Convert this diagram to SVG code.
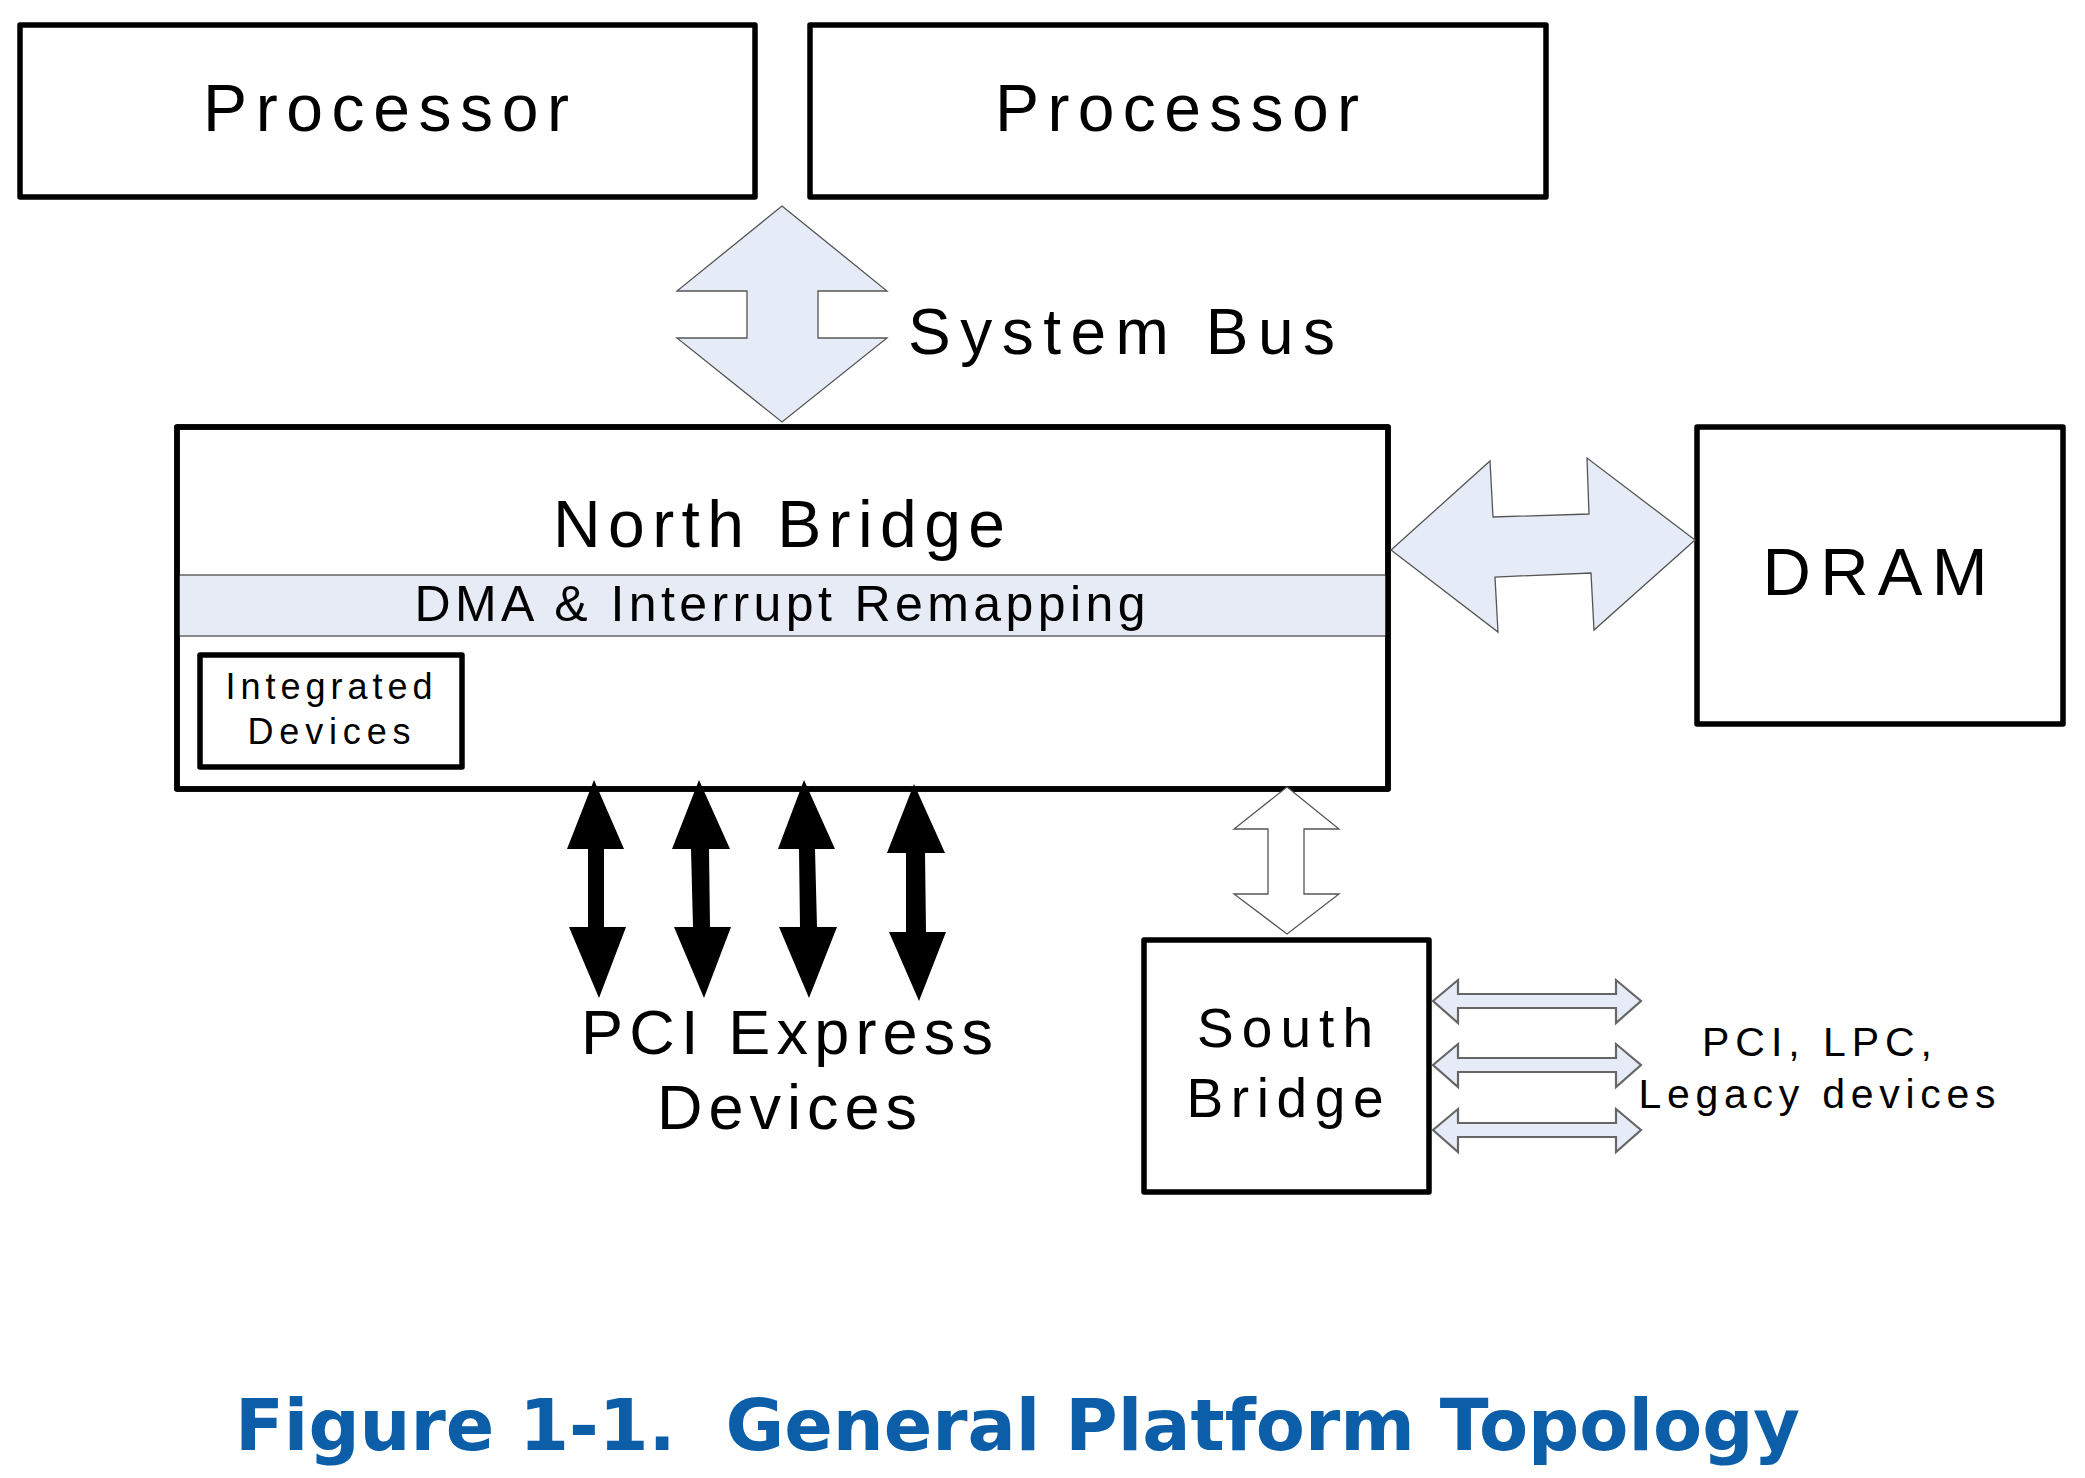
<svg xmlns="http://www.w3.org/2000/svg" width="2085" height="1478" viewBox="0 0 2085 1478">
<style>
.box{fill:#fff;stroke:#000;stroke-width:5.5;stroke-linejoin:round}
.lbl{font-family:"Liberation Sans",Arial,sans-serif;fill:#000;text-anchor:middle}
.bus{fill:#e6ecf7;stroke:#555;stroke-width:1.3;stroke-linejoin:miter}
.sbus{fill:#e6ecf7;stroke:#666;stroke-width:2.2}
.hollow{fill:#fff;stroke:#555;stroke-width:1.3}
.pcie{fill:#000;stroke:none}
.title{font-family:"DejaVu Sans",Verdana,sans-serif;font-weight:bold;fill:#0b5ea7}
</style>
<rect width="2085" height="1478" fill="#fff"/>

<g id="processor1">
<rect class="box" x="20" y="25" width="735" height="172"/>
<text class="lbl" x="386" y="131" font-size="66" textLength="366" lengthAdjust="spacing">Processor</text>
</g>
<g id="processor2">
<rect class="box" x="810" y="25" width="736" height="172"/>
<text class="lbl" x="1177" y="131" font-size="66" textLength="364" lengthAdjust="spacing">Processor</text>
</g>

<g id="north-bridge">
<rect class="box" x="177" y="427" width="1211" height="362"/>
<rect x="177" y="575" width="1211" height="61" fill="#e6ebf6" stroke="#666" stroke-width="1.5"/>
<text class="lbl" x="779" y="547" font-size="66" textLength="452" lengthAdjust="spacing">North Bridge</text>
<text class="lbl" x="780" y="621" font-size="50" textLength="731" lengthAdjust="spacing">DMA &amp; Interrupt Remapping</text>
<rect x="177" y="427" width="1211" height="362" fill="none" stroke="#000" stroke-width="5.5" stroke-linejoin="round"/>
</g>

<g id="integrated-devices">
<rect class="box" x="200" y="655" width="262" height="112"/>
<text class="lbl" x="329" y="699" font-size="36" textLength="207" lengthAdjust="spacing">Integrated</text>
<text class="lbl" x="329" y="744" font-size="36" textLength="163" lengthAdjust="spacing">Devices</text>
</g>

<g id="dram">
<rect class="box" x="1697" y="427" width="366" height="297"/>
<text class="lbl" x="1875" y="595" font-size="67" textLength="225" lengthAdjust="spacing">DRAM</text>
</g>

<g id="south-bridge">
<rect class="box" x="1144" y="940" width="285" height="252"/>
<text class="lbl" x="1285" y="1047" font-size="55" textLength="176" lengthAdjust="spacing">South</text>
<text class="lbl" x="1285" y="1117" font-size="55" textLength="197" lengthAdjust="spacing">Bridge</text>
</g>

<g id="labels">
<text class="lbl" x="908" y="354" font-size="64" textLength="427" lengthAdjust="spacing" style="text-anchor:start">System Bus</text>
<text class="lbl" x="787" y="1054" font-size="63" textLength="412" lengthAdjust="spacing">PCI Express</text>
<text class="lbl" x="787" y="1129" font-size="63" textLength="260" lengthAdjust="spacing">Devices</text>
<text class="lbl" x="1817" y="1056" font-size="41" textLength="230" lengthAdjust="spacing">PCI, LPC,</text>
<text class="lbl" x="1817" y="1108" font-size="41" textLength="357" lengthAdjust="spacing">Legacy devices</text>
</g>

<g id="connectors">
<polygon class="bus" points="782,206 887,291 818,291 818,338 887,338 782,422 677,338 747,338 747,291 677,291"/>
<polygon class="bus" points="1391,550 1490,461 1493,517 1589,514 1587,458 1695,540 1594,630 1591,573 1495,577 1498,632"/>
<polygon class="hollow" points="1287,787 1339,829 1304,829 1304,894 1339,894 1287,934 1234,894 1268,894 1268,829 1234,829"/>
<polygon class="pcie" points="594,780 624,849 604,849 604,927 626,927 599,998 569,927 588,927 588,849 567,849"/>
<polygon class="pcie" points="699,780 730,849 709,849 710,927 731,927 704,998 674,927 693,927 691,849 672,849"/>
<polygon class="pcie" points="804,780 835,849 815,849 817,927 837,927 809,998 779,927 800,927 799,849 778,849"/>
<polygon class="pcie" points="914,784 945,853 925,853 926,932 946,932 919,1001 889,932 906,932 906,853 887,853"/>
<polygon class="sbus" points="1433,1001 1458,980 1458,994 1616,994 1616,980 1641,1001 1616,1023 1616,1008 1458,1008 1458,1023"/>
<polygon class="sbus" points="1433,1065 1458,1044 1458,1058 1616,1058 1616,1044 1641,1065 1616,1087 1616,1072 1458,1072 1458,1087"/>
<polygon class="sbus" points="1433,1130 1458,1109 1458,1123 1616,1123 1616,1109 1641,1130 1616,1152 1616,1137 1458,1137 1458,1152"/>
</g>

<text class="title" xml:space="preserve" x="235" y="1450" font-size="72" textLength="1565" lengthAdjust="spacingAndGlyphs">Figure 1-1.  General Platform Topology</text>
</svg>
